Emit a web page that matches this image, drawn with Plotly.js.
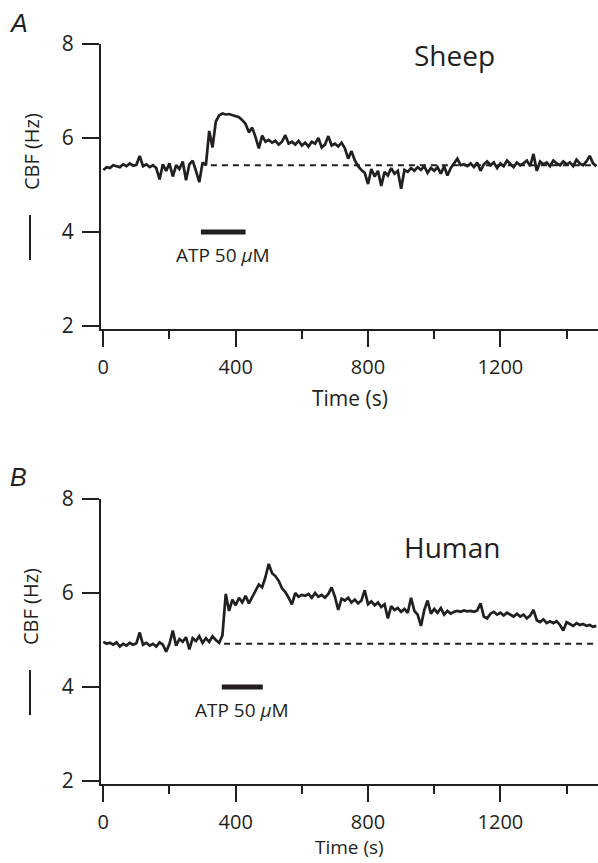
<!DOCTYPE html>
<html>
<head>
<meta charset="utf-8">
<script src="https://cdn.plot.ly/plotly-3.0.1.min.js"></script>
<style>html,body{margin:0;padding:0;background:#fff;}#chart{width:598px;height:863px;}</style>
</head>
<body>
<div id="chart"></div>
<script>
// ---- data ----
const SAMPLE_S = 10; // seconds between samples
const sheepCBF = [
  5.32, 5.38, 5.36, 5.42, 5.40, 5.38, 5.44, 5.40, 5.46, 5.41, 5.43,
  5.62, 5.40, 5.44, 5.38, 5.42, 5.36, 5.12, 5.44, 5.30, 5.46,
  5.18, 5.42, 5.34, 5.50, 5.10, 5.44, 5.52, 5.30, 5.06, 5.48,
  5.42,
  6.15, 5.80, 6.35, 6.48,
  6.52, 6.50, 6.51, 6.49, 6.47,
  6.44, 6.38, 6.30, 6.12, 6.22,
  6.02, 5.78, 6.05, 5.92, 5.96,
  5.90, 5.94, 5.86, 5.92, 6.06,
  5.88, 5.92, 5.86, 5.94, 5.84,
  5.90, 5.82, 5.92, 5.88, 6.00,
  5.80, 5.86, 6.04, 5.84, 5.88,
  5.82, 5.90, 5.78, 5.56, 5.72,
  5.52, 5.40, 5.32, 5.26, 5.02,
  5.34, 5.18, 5.30, 4.98, 5.28,
  5.20, 5.36, 5.24, 5.30, 4.92,
  5.32, 5.28, 5.36, 5.30, 5.38,
  5.32, 5.40, 5.26, 5.36, 5.30,
  5.38, 5.24, 5.40, 5.20, 5.36,
  5.46, 5.56, 5.42, 5.44, 5.40,
  5.46, 5.38, 5.48, 5.30, 5.44,
  5.50, 5.42, 5.48, 5.36, 5.46,
  5.40, 5.52, 5.44, 5.38, 5.48,
  5.42, 5.46, 5.52, 5.40, 5.66,
  5.30, 5.50, 5.44, 5.48, 5.40,
  5.52, 5.46, 5.42, 5.50, 5.44,
  5.48, 5.40, 5.54, 5.46, 5.42,
  5.50, 5.62, 5.46, 5.40
];
const humanCBF = [
  4.96, 4.92, 4.94, 4.90, 4.95, 4.86, 4.92, 4.88, 4.94, 4.90, 4.93,
  5.16, 4.90, 4.94, 4.88, 4.92, 4.86, 4.95, 4.90, 4.75, 4.92,
  5.20, 4.88, 5.02, 4.96, 5.06, 4.80, 5.04, 4.98, 5.08, 4.94,
  5.04, 4.96, 5.08, 5.00, 4.94,
  5.10, 5.98, 5.62, 5.86, 5.74,
  5.90, 5.80, 5.94, 5.78, 5.92,
  6.06, 6.18, 6.12, 6.34, 6.62,
  6.42, 6.36, 6.26, 6.10, 6.02,
  5.90, 5.76, 6.00, 5.92, 5.96,
  5.94, 5.98, 5.90, 6.00, 5.92,
  5.96, 5.90, 5.98, 6.12, 5.92,
  5.64, 5.88, 5.84, 5.90, 5.80,
  5.86, 5.78, 5.84, 6.06, 5.76,
  5.82, 5.74, 5.80, 5.70, 5.76,
  5.46, 5.72, 5.64, 5.68, 5.60,
  5.66, 5.58, 5.90, 5.62, 5.54,
  5.30, 5.64, 5.84, 5.56, 5.66,
  5.58, 5.68, 5.54, 5.62, 5.56,
  5.60, 5.62, 5.60, 5.63, 5.61,
  5.62, 5.60, 5.63, 5.78, 5.50,
  5.46, 5.56, 5.60, 5.54, 5.58,
  5.52, 5.58, 5.54, 5.50, 5.56,
  5.50, 5.54, 5.46, 5.52, 5.64,
  5.42, 5.38, 5.44, 5.36, 5.40,
  5.36, 5.40, 5.32, 5.20, 5.38,
  5.34, 5.30, 5.36, 5.32, 5.34,
  5.30, 5.32, 5.28, 5.30
];
const sheepBaseline = {x: [325, 1490], y: [5.42, 5.42]};
const humanBaseline = {x: [365, 1495], y: [4.92, 4.92]};
const sheepATP = {x: [295, 430], y: [4, 4]};
const humanATP = {x: [358, 482], y: [4, 4]};
const xTicks = [0, 400, 800, 1200];
const yTicks = [2, 4, 6, 8];
const panelTitles = ['Sheep', 'Human'];
const panelLetters = ['A', 'B'];
const atpLabel = 'ATP 50 <i>\u03bc</i>M';

// ---- chart ----
const INK = '#231f20';
const FONT = 'Open Sans, Liberation Sans, sans-serif';
const sheepT = sheepCBF.map((_, i) => i * SAMPLE_S);
const humanT = humanCBF.map((_, i) => i * SAMPLE_S);

const traces = [
  {x: sheepBaseline.x, y: sheepBaseline.y, xaxis: 'x', yaxis: 'y', mode: 'lines', line: {color: INK, width: 2, dash: '6px,5px'}},
  {x: sheepT, y: sheepCBF, xaxis: 'x', yaxis: 'y', mode: 'lines', line: {color: INK, width: 2.7}},
  {x: sheepATP.x, y: sheepATP.y, xaxis: 'x', yaxis: 'y', mode: 'lines', line: {color: INK, width: 5}},
  {x: humanBaseline.x, y: humanBaseline.y, xaxis: 'x2', yaxis: 'y2', mode: 'lines', line: {color: INK, width: 2, dash: '6px,5px'}},
  {x: humanT, y: humanCBF, xaxis: 'x2', yaxis: 'y2', mode: 'lines', line: {color: INK, width: 2.7}},
  {x: humanATP.x, y: humanATP.y, xaxis: 'x2', yaxis: 'y2', mode: 'lines', line: {color: INK, width: 5}}
];

function xAxis(anchor) {
  return {
    anchor: anchor, range: [-7, 1495], domain: [0, 1],
    tickvals: xTicks, ticktext: xTicks.map(String),
    ticks: 'outside', ticklen: 16, tickwidth: 2, tickcolor: INK,
    minor: {dtick: 200, tick0: 0, ticks: 'outside', ticklen: 8, tickwidth: 2, tickcolor: INK},
    showline: true, linewidth: 2, linecolor: INK,
    showgrid: false, zeroline: false,
    tickfont: {family: FONT, size: 20, color: INK}, ticklabelstandoff: 3
  };
}
function yAxis(anchor, domain) {
  return {
    anchor: anchor, range: [1.936, 8], domain: domain,
    tickvals: yTicks, ticktext: yTicks.map(String),
    ticks: 'outside', ticklen: 17, tickwidth: 2, tickcolor: INK,
    showline: true, linewidth: 2, linecolor: INK,
    showgrid: false, zeroline: false,
    tickfont: {family: FONT, size: 21, color: INK}, ticklabelstandoff: 4
  };
}

const ann = (text, x, y, size, extra) => Object.assign({
  text: text, x: x, y: y, xref: 'paper', yref: 'paper', showarrow: false,
  xanchor: 'center', yanchor: 'middle', font: {family: FONT, size: size, color: INK}
}, extra || {});

const layout = {
  width: 598, height: 863,
  margin: {l: 101, r: 0, t: 44, b: 79},
  paper_bgcolor: '#fff', plot_bgcolor: 'rgba(0,0,0,0)',
  showlegend: false,
  xaxis: xAxis('y'), yaxis: yAxis('x', [0.6149, 1]),
  xaxis2: xAxis('y2'), yaxis2: yAxis('x2', [0, 0.3851]),
  annotations: [
    ann(panelLetters[0], -0.165, 1.028, 25, {font: {family: 'Liberation Sans, Arial, sans-serif', size: 25, color: INK, style: 'italic'}}),
    ann(panelLetters[1], -0.165, 0.4149, 25, {font: {family: 'Liberation Sans, Arial, sans-serif', size: 25, color: INK, style: 'italic'}}),
    ann(panelTitles[0], 0.712, 0.985, 28),
    ann(panelTitles[1], 0.706, 0.320, 28),
    ann('CBF (Hz)', -0.1408, 0.854, 20, {textangle: -90}),
    ann('CBF (Hz)', -0.1408, 0.2392, 20, {textangle: -90}),
    ann('Time (s)', 0.5, 0.5216, 21),
    ann('Time (s)', 0.5, -0.1054, 19, {yanchor: 'bottom'}),
    {text: atpLabel, x: (sheepATP.x[0] + sheepATP.x[1]) / 2, y: sheepATP.y[0], xref: 'x', yref: 'y', showarrow: false,
     xanchor: 'center', yanchor: 'top', yshift: -8, font: {family: FONT, size: 19, color: INK}},
    {text: atpLabel, x: (humanATP.x[0] + humanATP.x[1]) / 2, y: humanATP.y[0], xref: 'x2', yref: 'y2', showarrow: false,
     xanchor: 'center', yanchor: 'top', yshift: -8, font: {family: FONT, size: 19, color: INK}}
  ],
  shapes: [
    {type: 'line', xref: 'paper', yref: 'paper', x0: -0.1429, x1: -0.1429, y0: 0.7689, y1: 0.7081, line: {color: INK, width: 2}},
    {type: 'line', xref: 'paper', yref: 'paper', x0: -0.1429, x1: -0.1429, y0: 0.1541, y1: 0.0932, line: {color: INK, width: 2}}
  ]
};

Plotly.newPlot('chart', traces, layout, {staticPlot: true, displayModeBar: false});
</script>
</body>
</html>
